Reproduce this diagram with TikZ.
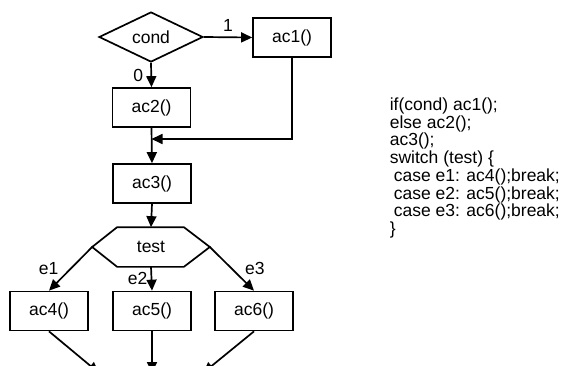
\documentclass[tikz,border=0pt]{standalone}
\usepackage{fontspec}
\setmainfont{Liberation Sans}
\usetikzlibrary{arrows.meta,shapes.geometric}
\begin{document}
\begin{tikzpicture}[
  x=1pt, y=-1pt,
  line width=1.7pt,
  font=\fontsize{17.5}{19}\selectfont,
  box/.style={draw, rectangle, minimum width=78pt, minimum height=39pt, inner sep=0pt},
  arr/.style={-{Triangle[length=11pt,width=10pt]}}
  ]
  \useasboundingbox (0,0) rectangle (565,365);

  % if / else
  \node [draw, diamond, aspect=2.08, minimum width=104pt, minimum height=50pt, inner sep=0pt] (cond) at (151,37) {cond};
  \node [box] (ac1) at (292,37.5) {ac1()};
  \node [box] (ac2) at (151.5,107.5) {ac2()};
  \node [box] (ac3) at (152,183.5) {ac3()};
  \coordinate (join) at (151.5,139);

  \draw [arr] (cond.east) -- node [above=2pt] {1} (ac1.west);
  \draw [arr] (cond.south) -- node [left=4pt] {0} (ac2.north);
  \draw [arr] (ac1.south) |- (join);
  \draw [arr] (ac2.south) -- (ac3.north);

  % switch
  \node [minimum width=116pt, minimum height=38pt, inner sep=0pt] (test) at (151,247) {test};
  \draw (test.west) -- ([xshift=25pt]test.north west) -- ([xshift=-26pt]test.north east)
    -- (test.east) -- ([xshift=-26pt]test.south east) -- ([xshift=25pt]test.south west) -- cycle;
  \draw [arr] (ac3.south) -- (test.north);

  \foreach \i/\x in {4/49,5/152,6/254} {
    \node [box] (ac\i) at (\x,311) {ac\i()};
  }
  \coordinate (out4) at (99,373);
  \coordinate (out5) at (152,373);
  \coordinate (out6) at (203,373);

  \draw [arr] (test.west) -- node [left=8pt] {e1} (ac4.north);
  \draw [arr] (test.south) -- node [left=0pt] {e2} (ac5.north);
  \draw [arr] (test.east) -- node [right=9pt] {e3} (ac6.north);
  \foreach \i in {4,5,6} {
    \draw [arr] (ac\i.south) -- (out\i);
  }

  % code
  \node [anchor=north west, align=left, inner sep=0pt, font=\fontsize{17.5}{17.7}\selectfont] (code) at (389,97) {%
    if(cond) ac1();\\
    else ac2();\\
    ac3();\\
    switch (test) \{\\
    \hspace*{4pt}case e1: ac4();break;\\
    \hspace*{4pt}case e2: ac5();break;\\
    \hspace*{4pt}case e3: ac6();break;\\
    \}};
\end{tikzpicture}
\end{document}
